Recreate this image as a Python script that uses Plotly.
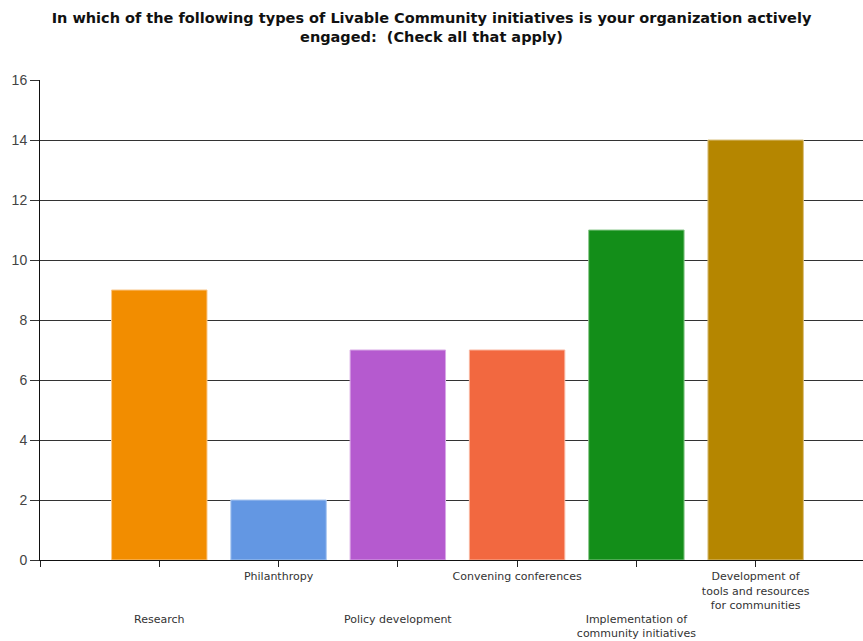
import plotly.graph_objects as go

categories = ["Research", "Philanthropy", "Policy development", "Convening conferences",
              "Implementation of<br>community initiatives",
              "Development of<br>tools and resources<br>for communities"]
values = [9, 2, 7, 7, 11, 14]
colors = ["#F28D00", "#6397E3", "#B55ACF", "#F26840", "#138E19", "#B58600"]
edge_colors = ["#F9C78A", "#A9C6EF", "#D9A9E6", "#F9B49E", "#8CC98E", "#D9C07F"]
stagger_low = [True, False, True, False, True, False]
y_ticks = [0, 2, 4, 6, 8, 10, 12, 14, 16]
title_text = ("In which of the following types of Livable Community initiatives is your organization actively"
              "<br>engaged:&nbsp; (Check all that apply)")

positions = list(range(len(categories)))
tick_text = [("<br><br><br>" + c) if low else c for c, low in zip(categories, stagger_low)]

fig = go.Figure()
fig.add_trace(go.Bar(
    x=positions, y=values, width=0.8,
    marker=dict(color=colors, line=dict(color=edge_colors, width=1)),
    hoverinfo="skip", showlegend=False,
))

fig.update_layout(
    width=863, height=641,
    margin=dict(l=40, r=0, t=80, b=81),
    paper_bgcolor="white", plot_bgcolor="white",
    title=dict(text=title_text, x=0.5, xanchor="center", y=1 - 23 / 641, yanchor="top",
               yref="container",
               font=dict(family="DejaVu Sans", size=14.5, color="#111111", weight="bold")),
    font=dict(family="DejaVu Sans", color="#333333"),
)
fig.update_xaxes(
    range=[-1, 5.9], tickvals=[-1] + positions, ticktext=[""] + tick_text,
    tickangle=0, automargin=False,
    ticks="outside", ticklen=6, tickcolor="#222222", tickwidth=1,
    showline=True, linecolor="#111111", linewidth=1, showgrid=False, zeroline=False,
    tickfont=dict(family="DejaVu Sans", size=11, color="#333333"),
)
fig.update_yaxes(
    range=[0, 16], tickvals=y_ticks, automargin=False,
    ticks="outside", ticklen=9, tickcolor="#333333", tickwidth=1,
    showline=True, linecolor="#111111", linewidth=1,
    showgrid=True, gridcolor="#333333", gridwidth=1, zeroline=False,
    tickfont=dict(family="Liberation Sans, Arial", size=14, color="#444444"),
)

fig.write_html("out.html")
